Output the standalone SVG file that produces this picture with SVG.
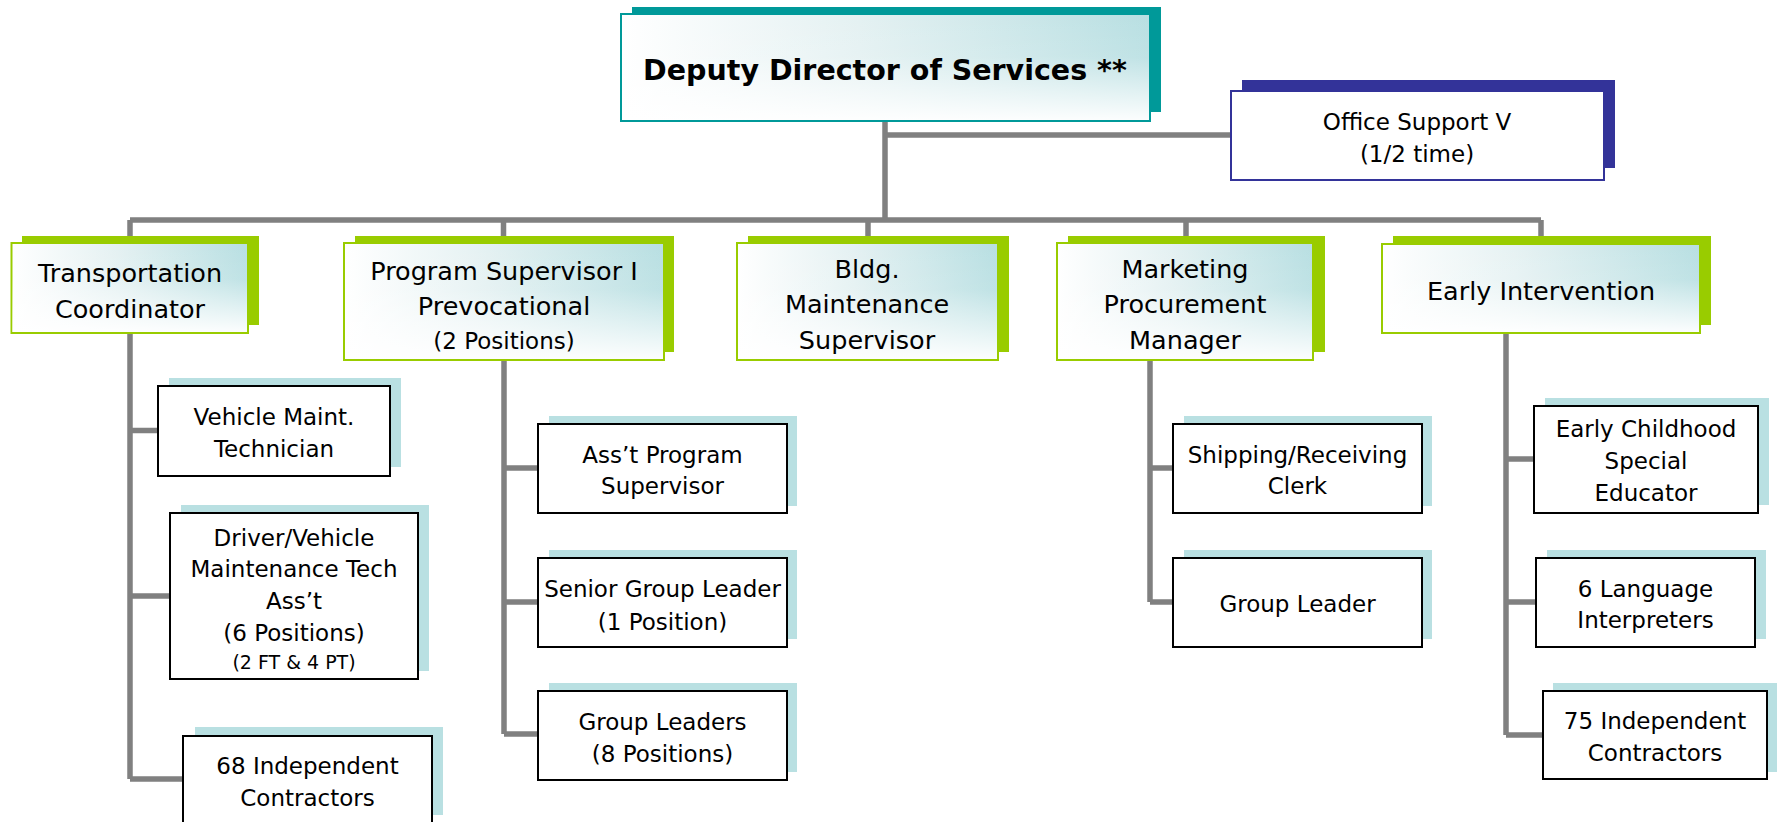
<svg xmlns="http://www.w3.org/2000/svg" width="1781" height="822" viewBox="0 0 1781 822">
<defs>
<linearGradient id="gh" x1="0" y1="0" x2="1" y2="0">
<stop offset="0" stop-color="#ffffff"/>
<stop offset="0.45" stop-color="#e4f1f2"/>
<stop offset="1" stop-color="#b8dfe2"/>
</linearGradient>
<linearGradient id="gv" x1="0" y1="0" x2="0" y2="1">
<stop offset="0" stop-color="#ffffff" stop-opacity="0"/>
<stop offset="0.4" stop-color="#ffffff" stop-opacity="0.1"/>
<stop offset="1" stop-color="#ffffff" stop-opacity="0.95"/>
</linearGradient>
<style>
text{font-family:"DejaVu Sans","Liberation Sans",sans-serif;fill:#000;text-anchor:middle}
.top{font-size:28.5px;font-weight:bold}
.l1{font-size:25.5px}
.l2{font-size:23px}
.sm{font-size:19px}
.sh-teal{fill:#009999}
.sh-blue{fill:#333399}
.sh-green{fill:#99cc00}
.sh-sub{fill:#b9e0e2}
.bx-teal{fill:url(#gh);stroke:#009999;stroke-width:2}
.bx-green{fill:url(#gh);stroke:#99cc00;stroke-width:2}
.ov{fill:url(#gv);stroke:none}
.bx-blue{fill:#fff;stroke:#333399;stroke-width:2}
.bx-sub{fill:#fff;stroke:#000;stroke-width:2}
.cn{fill:none;stroke:#808080;stroke-width:5.5}
</style>
</defs>
<rect width="1781" height="822" fill="#fff"/>
<g id="connectors">
<path class="cn" d="M885 121V220M885 135H1231M130 220H1541M130 220V243M503.5 220V243M868 220V243M1186 220V243M1541 220V244"/>
<path class="cn" d="M130 333V779M130 430.5H158M130 596H170M130 779H183"/>
<path class="cn" d="M504 360V734M504 468H538M504 602H538M504 734H538"/>
<path class="cn" d="M1150 360V602M1150 468H1173M1150 602H1173"/>
<path class="cn" d="M1506 333V735M1506 459H1534M1506 602H1536M1506 735H1543"/>
</g>
<g id="deputy">
<rect class="sh-teal" x="632" y="7" width="529" height="105"/>
<rect class="bx-teal" x="621" y="14" width="529" height="107"/>
<rect class="ov" x="622" y="15" width="527" height="105"/>
<text class="top" x="885" y="80">Deputy Director of Services **</text>
</g>
<g id="office-support">
<rect class="sh-blue" x="1242" y="80" width="373" height="88"/>
<rect class="bx-blue" x="1231" y="91" width="373" height="89"/>
<text class="l2" x="1417" y="130">Office Support V</text>
<text class="l2" x="1417" y="161.5">(1/2 time)</text>
</g>
<g id="transportation">
<rect class="sh-green" x="22" y="236" width="237" height="89"/>
<rect class="bx-green" x="11.5" y="243" width="236.5" height="90"/>
<rect class="ov" x="12.5" y="244" width="234.5" height="88"/>
<text class="l1" x="130" y="281.5">Transportation</text>
<text class="l1" x="130" y="317.5">Coordinator</text>
</g>
<g id="program-supervisor">
<rect class="sh-green" x="355" y="236" width="319" height="116"/>
<rect class="bx-green" x="344" y="243" width="320" height="117"/>
<rect class="ov" x="345" y="244" width="318" height="115"/>
<text class="l1" x="504" y="280">Program Supervisor I</text>
<text class="l1" x="504" y="315">Prevocational</text>
<text class="l2" x="504" y="349">(2 Positions)</text>
</g>
<g id="bldg-maintenance">
<rect class="sh-green" x="748" y="236" width="261" height="116"/>
<rect class="bx-green" x="737" y="243" width="261" height="117"/>
<rect class="ov" x="738" y="244" width="259" height="115"/>
<text class="l1" x="867" y="278">Bldg.</text>
<text class="l1" x="867" y="313">Maintenance</text>
<text class="l1" x="867" y="349">Supervisor</text>
</g>
<g id="marketing">
<rect class="sh-green" x="1068" y="236" width="257" height="116"/>
<rect class="bx-green" x="1057" y="243" width="256" height="117"/>
<rect class="ov" x="1058" y="244" width="254" height="115"/>
<text class="l1" x="1185" y="278">Marketing</text>
<text class="l1" x="1185" y="313">Procurement</text>
<text class="l1" x="1185" y="349">Manager</text>
</g>
<g id="early-intervention">
<rect class="sh-green" x="1393" y="236" width="318" height="89"/>
<rect class="bx-green" x="1382" y="244" width="318" height="89"/>
<rect class="ov" x="1383" y="245" width="316" height="87"/>
<text class="l1" x="1541" y="299.5">Early Intervention</text>
</g>
<g id="vehicle-maint">
<rect class="sh-sub" x="169" y="378" width="232" height="89"/>
<rect class="bx-sub" x="158" y="386" width="232" height="90"/>
<text class="l2" x="274" y="425">Vehicle Maint.</text>
<text class="l2" x="274" y="457">Technician</text>
</g>
<g id="driver">
<rect class="sh-sub" x="181" y="505" width="248" height="166"/>
<rect class="bx-sub" x="170" y="513" width="248" height="166"/>
<text class="l2" x="294" y="545.5">Driver/Vehicle</text>
<text class="l2" x="294" y="577">Maintenance Tech</text>
<text class="l2" x="294" y="609">Ass’t</text>
<text class="l2" x="294" y="640.5">(6 Positions)</text>
<text class="sm" x="294" y="669">(2 FT &amp; 4 PT)</text>
</g>
<g id="contractors-68">
<rect class="sh-sub" x="195" y="727" width="248" height="88"/>
<rect class="bx-sub" x="183" y="736" width="249" height="90"/>
<text class="l2" x="307.5" y="774">68 Independent</text>
<text class="l2" x="307.5" y="806">Contractors</text>
</g>
<g id="asst-program">
<rect class="sh-sub" x="549" y="416" width="248" height="90"/>
<rect class="bx-sub" x="538" y="424" width="249" height="89"/>
<text class="l2" x="662.5" y="463">Ass’t Program</text>
<text class="l2" x="662.5" y="494">Supervisor</text>
</g>
<g id="senior-group-leader">
<rect class="sh-sub" x="549" y="550" width="248" height="89"/>
<rect class="bx-sub" x="538" y="558" width="249" height="89"/>
<text class="l2" x="662.5" y="596.5">Senior Group Leader</text>
<text class="l2" x="662.5" y="630">(1 Position)</text>
</g>
<g id="group-leaders">
<rect class="sh-sub" x="549" y="683" width="248" height="89"/>
<rect class="bx-sub" x="538" y="691" width="249" height="89"/>
<text class="l2" x="662.5" y="730">Group Leaders</text>
<text class="l2" x="662.5" y="762">(8 Positions)</text>
</g>
<g id="shipping">
<rect class="sh-sub" x="1184" y="416" width="248" height="90"/>
<rect class="bx-sub" x="1173" y="424" width="249" height="89"/>
<text class="l2" x="1297.5" y="463">Shipping/Receiving</text>
<text class="l2" x="1297.5" y="494">Clerk</text>
</g>
<g id="group-leader">
<rect class="sh-sub" x="1184" y="550" width="248" height="89"/>
<rect class="bx-sub" x="1173" y="558" width="249" height="89"/>
<text class="l2" x="1297.5" y="611.5">Group Leader</text>
</g>
<g id="early-childhood">
<rect class="sh-sub" x="1545" y="398" width="224" height="107"/>
<rect class="bx-sub" x="1534" y="406" width="224" height="107"/>
<text class="l2" x="1646" y="437">Early Childhood</text>
<text class="l2" x="1646" y="469">Special</text>
<text class="l2" x="1646" y="500.5">Educator</text>
</g>
<g id="language-interpreters">
<rect class="sh-sub" x="1547" y="550" width="219" height="89"/>
<rect class="bx-sub" x="1536" y="558" width="219" height="89"/>
<text class="l2" x="1645.5" y="596.5">6 Language</text>
<text class="l2" x="1645.5" y="628">Interpreters</text>
</g>
<g id="contractors-75">
<rect class="sh-sub" x="1553" y="683" width="224" height="89"/>
<rect class="bx-sub" x="1543" y="691" width="224" height="88"/>
<text class="l2" x="1655" y="729">75 Independent</text>
<text class="l2" x="1655" y="760.5">Contractors</text>
</g>
</svg>
